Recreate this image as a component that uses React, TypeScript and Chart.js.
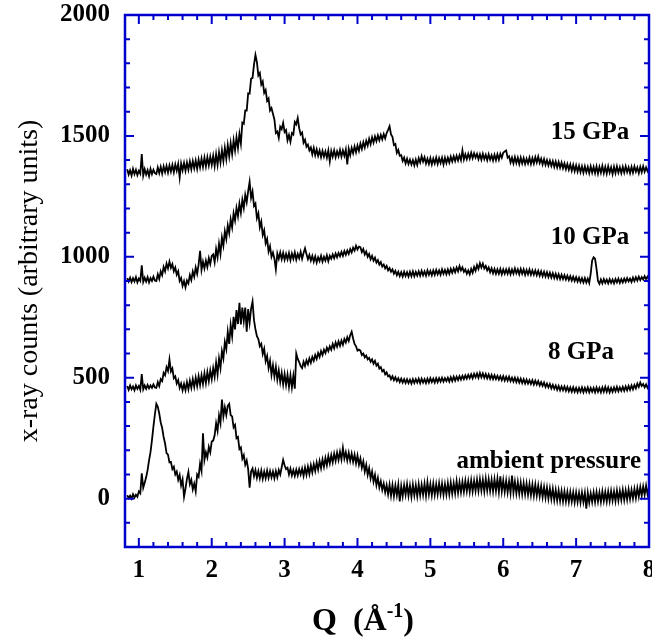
import React, { useEffect, useRef } from "react";
import { Chart, registerables } from "chart.js";

Chart.register(...registerables);

// Sampling grid of the diffraction patterns (Q in 1/Å)
const Q_START = 0.84;
const Q_STEP = 0.02;

const GPA15 = [
  1362, 1340, 1358, 1336, 1364, 1342, 1360, 1338, 1356, 1344, 1425, 1336, 1362, 1340, 1358, 1334, 1364, 1342, 1360, 1346,
  1342, 1370, 1346, 1372, 1344, 1374, 1350, 1376, 1348, 1378, 1352, 1380, 1350, 1382, 1356, 1384, 1328, 1386, 1358, 1388,
  1356, 1390, 1360, 1394, 1362, 1396, 1366, 1398, 1364, 1402, 1370, 1406, 1372, 1410, 1374, 1412, 1378, 1414, 1380, 1418,
  1375, 1424, 1380, 1432, 1390, 1440, 1396, 1450, 1405, 1462, 1416, 1470, 1425, 1482, 1440, 1494, 1450, 1508, 1468, 1555,
  1550, 1605, 1605, 1676, 1675, 1736, 1740, 1795, 1835, 1805, 1750, 1760, 1712, 1725, 1678, 1690, 1645, 1655, 1605, 1615,
  1592, 1568, 1512, 1518, 1492, 1538, 1528, 1554, 1516, 1524, 1482, 1504, 1476, 1512, 1506, 1558, 1548, 1574, 1532, 1506,
  1514, 1472, 1484, 1455, 1464, 1440, 1452, 1424, 1450, 1420, 1444, 1418, 1440, 1412, 1438, 1414, 1436, 1410, 1440, 1395,
  1438, 1414, 1440, 1412, 1436, 1416, 1442, 1414, 1440, 1418, 1444, 1382, 1446, 1420, 1450, 1428, 1456, 1432, 1460, 1438,
  1468, 1446, 1474, 1452, 1480, 1460, 1488, 1466, 1494, 1472, 1498, 1478, 1502, 1482, 1504, 1486, 1508, 1490, 1512, 1525,
  1540, 1506, 1496, 1462, 1466, 1430, 1442, 1418, 1420, 1396, 1410, 1386, 1406, 1384, 1402, 1382, 1400, 1378, 1402, 1380,
  1408, 1390, 1416, 1394, 1412, 1386, 1406, 1384, 1408, 1382, 1406, 1386, 1410, 1384, 1408, 1388, 1410, 1382, 1410, 1388,
  1410, 1390, 1414, 1394, 1416, 1396, 1418, 1398, 1420, 1400, 1440, 1402, 1424, 1404, 1426, 1406, 1430, 1408, 1428, 1410,
  1426, 1404, 1424, 1402, 1426, 1404, 1422, 1400, 1424, 1402, 1420, 1398, 1422, 1400, 1424, 1402, 1426, 1410, 1430, 1436,
  1440, 1410, 1416, 1390, 1410, 1386, 1412, 1388, 1410, 1384, 1410, 1386, 1408, 1384, 1406, 1386, 1410, 1384, 1408, 1386,
  1412, 1390, 1414, 1388, 1406, 1382, 1404, 1380, 1400, 1378, 1398, 1376, 1396, 1372, 1394, 1370, 1392, 1368, 1390, 1366,
  1386, 1362, 1384, 1360, 1382, 1356, 1380, 1354, 1378, 1352, 1376, 1350, 1374, 1348, 1374, 1350, 1372, 1346, 1374, 1348,
  1372, 1346, 1374, 1344, 1372, 1348, 1376, 1346, 1372, 1344, 1374, 1348, 1370, 1342, 1372, 1346, 1374, 1348, 1370, 1346,
  1372, 1348, 1374, 1350, 1370, 1346, 1372, 1348, 1374, 1352, 1370, 1346, 1372, 1350, 1374, 1352, 1370, 1354, 1368,
];

const GPA10 = [
  912, 898, 914, 896, 912, 898, 916, 894, 910, 900, 965, 896, 914, 898, 916, 894, 912, 900, 918, 902,
  900, 928, 908, 940, 924, 958, 940, 972, 952, 980, 955, 970, 940, 956, 926, 940, 900, 912, 880, 900,
  874, 902, 890, 924, 904, 940, 918, 956, 930, 968, 1025, 946, 980, 952, 984, 958, 994, 970, 1004, 1010,
  978, 1032, 998, 1054, 1012, 1080, 1046, 1106, 1074, 1130, 1098, 1155, 1122, 1180, 1150, 1202, 1168, 1220, 1182, 1236,
  1202, 1256, 1226, 1272, 1310, 1244, 1270, 1210, 1220, 1160, 1180, 1122, 1146, 1090, 1110, 1056, 1074, 1022, 1044, 1000,
  1018, 992, 948, 1014, 992, 1018, 990, 1016, 988, 1012, 990, 1016, 986, 1014, 992, 1018, 988, 1012, 994, 1020,
  992, 1016, 1035, 1012, 990, 1008, 984, 1004, 980, 1002, 976, 998, 982, 1004, 980, 1000, 984, 1006, 982, 1004,
  992, 1010, 994, 1014, 998, 1016, 1002, 1020, 1004, 1024, 1008, 1026, 1012, 1032, 1018, 1038, 1026, 1046, 1030, 1042,
  1040, 1020, 1032, 1010, 1022, 1000, 1012, 990, 1004, 984, 996, 976, 986, 968, 978, 960, 968, 952, 962, 944,
  954, 938, 948, 930, 942, 924, 938, 920, 936, 918, 938, 920, 936, 918, 938, 920, 940, 920, 938, 922,
  940, 922, 942, 924, 940, 922, 944, 926, 942, 924, 944, 926, 946, 928, 944, 926, 948, 930, 946, 928,
  948, 930, 950, 934, 952, 936, 956, 940, 962, 944, 956, 938, 948, 930, 944, 928, 950, 934, 958, 942,
  966, 950, 974, 956, 972, 952, 962, 944, 956, 936, 952, 932, 950, 930, 948, 930, 950, 928, 948, 930,
  948, 930, 950, 928, 948, 930, 952, 932, 948, 928, 950, 930, 948, 926, 946, 928, 948, 926, 944, 926,
  944, 924, 942, 922, 940, 920, 938, 918, 936, 916, 934, 914, 932, 912, 930, 910, 928, 908, 926, 908,
  924, 906, 922, 904, 920, 902, 918, 900, 916, 898, 914, 896, 912, 894, 912, 894, 910, 892, 930, 985,
  998, 992, 950, 900, 888, 906, 890, 908, 892, 906, 890, 908, 892, 906, 890, 908, 894, 910, 892, 908,
  894, 910, 896, 912, 898, 910, 896, 914, 900, 916, 902, 918, 904, 916, 906, 920, 908, 918, 906,
];

const GPA8 = [
  466, 450, 468, 452, 464, 448, 468, 454, 466, 450, 515, 452, 468, 454, 470, 456, 468, 458, 472, 460,
  458, 482, 466, 494, 486, 520, 510, 544, 528, 575, 526, 538, 498, 506, 476, 490, 458, 476, 448, 474,
  448, 482, 452, 488, 458, 494, 462, 500, 466, 506, 470, 510, 474, 518, 478, 524, 486, 530, 494, 540,
  504, 562, 514, 580, 540, 610, 580, 648, 618, 690, 640, 718, 672, 752, 700, 780, 722, 810, 720, 790,
  735, 790, 690, 784, 728, 785, 815, 738, 700, 672, 660, 630, 640, 598, 620, 568, 590, 540, 570, 512,
  552, 505, 545, 492, 530, 482, 520, 472, 515, 470, 512, 462, 510, 460, 508, 455, 600, 578, 565, 548,
  540, 566, 548, 572, 556, 580, 562, 586, 570, 594, 578, 602, 586, 610, 594, 616, 602, 624, 610, 630,
  616, 640, 622, 646, 628, 650, 632, 654, 636, 660, 646, 668, 652, 676, 690, 662, 640, 630, 612, 616,
  612, 594, 600, 584, 592, 576, 582, 566, 576, 558, 570, 550, 558, 538, 544, 526, 532, 514, 522, 506,
  510, 494, 506, 490, 502, 486, 498, 482, 496, 480, 494, 478, 494, 478, 492, 476, 494, 478, 494, 480,
  496, 478, 496, 480, 494, 478, 496, 480, 498, 482, 496, 480, 498, 482, 498, 484, 500, 484, 498, 486,
  500, 484, 502, 486, 504, 488, 504, 490, 506, 492, 508, 494, 510, 496, 512, 498, 514, 498, 516, 502,
  518, 500, 520, 502, 518, 500, 516, 498, 514, 496, 512, 494, 510, 494, 508, 492, 506, 490, 506, 488,
  504, 488, 504, 486, 500, 484, 500, 482, 498, 480, 496, 478, 494, 476, 492, 476, 490, 474, 490, 472,
  488, 472, 486, 468, 482, 466, 480, 462, 476, 460, 474, 456, 470, 454, 468, 450, 466, 448, 464, 448,
  464, 446, 462, 444, 460, 442, 460, 442, 458, 440, 458, 442, 460, 440, 458, 442, 460, 440, 458, 442,
  458, 440, 460, 442, 458, 440, 460, 442, 462, 442, 460, 440, 458, 442, 460, 444, 462, 444, 460, 446,
  462, 446, 464, 448, 466, 450, 468, 452, 470, 456, 476, 462, 480, 466, 474, 460, 472, 458, 470,
];

const AMBIENT = [
  14, 2, 12, 0, 18, 4, 16, 8, 30, 22, 105, 45, 66, 88, 118, 158, 192, 242, 298, 348,
  392, 380, 352, 315, 292, 255, 228, 188, 182, 150, 152, 122, 132, 100, 112, 78, 98, 55, 80, 8,
  42, 82, 110, 60, 78, 38, 62, 30, 100, 90, 145, 115, 270, 160, 192, 170, 214, 192, 236, 240,
  262, 312, 280, 344, 312, 410, 340, 378, 346, 384, 392, 345, 340, 295, 305, 250, 255, 205, 212, 165,
  180, 140, 158, 122, 45, 112, 125, 92, 118, 86, 114, 84, 116, 82, 112, 84, 116, 86, 114, 88,
  112, 84, 114, 88, 118, 100, 130, 160, 138, 122, 128, 100, 124, 96, 118, 94, 120, 96, 122, 100,
  124, 94, 128, 98, 132, 102, 138, 108, 142, 114, 150, 120, 156, 126, 162, 132, 168, 138, 176, 146,
  180, 150, 186, 156, 190, 160, 194, 162, 210, 166, 192, 158, 190, 156, 186, 152, 182, 146, 178, 140,
  166, 128, 154, 112, 140, 98, 126, 84, 112, 70, 98, 56, 86, 46, 72, 36, 62, 26, 56, 18,
  58, 12, 56, 10, 54, 14, 58, -12, 52, 10, 56, 16, 60, 12, 54, 8, 58, 14, 55, 10,
  60, 14, 58, 16, 62, 12, 68, 18, 60, 14, 62, 16, 60, 18, 64, 20, 62, 16, 60, 18,
  64, 18, 66, 20, 64, 22, 72, 24, 68, 26, 70, 28, 74, 30, 72, 28, 76, 30, 74, 32,
  78, 32, 80, 34, 78, 30, 82, 34, 80, 32, 78, 30, 80, 32, 82, 28, 92, 30, 76, 28,
  74, 26, 72, 24, 95, 26, 70, 22, 68, 20, 66, 18, 64, 18, 62, 16, 60, 14, 58, 12,
  58, 12, 54, 10, 52, 6, 48, 4, 46, 0, 42, -2, 40, -6, 36, -8, 34, -10, 32, -12,
  30, -12, 28, -14, 28, -12, 26, -16, 26, -14, 24, -16, 26, -14, 24, -42, 24, -16, 22, -14,
  26, -14, 28, -12, 26, -14, 30, -10, 28, -12, 30, -10, 32, -8, 30, -10, 34, -8, 32, -6,
  36, -6, 34, -4, 38, -2, 36, 0, 40, 2, 44, 8, 48, 12, 50, 16, 54, 18, 46,
];

const X_TICKS = [1, 2, 3, 4, 5, 6, 7, 8];
const Y_TICKS = [0, 500, 1000, 1500, 2000];
const X_MINOR_STEP = 0.2;
const Y_MINOR_STEP = 100;

const CURVE_LABELS = ["15 GPa", "10 GPa", "8 GPa", "ambient pressure"];

const BLUE = "#0000cc";
const SERIF = '"Liberation Serif", "Times New Roman", serif';

const toPoints = (arr: number[]) =>
  arr.map((v, i) => ({ x: +(Q_START + i * Q_STEP).toFixed(2), y: v }));

const framePlugin = {
  id: "frame",
  afterDraw(chart: any) {
    const { ctx, chartArea: a, scales } = chart;
    const xs = scales.x;
    const ys = scales.y;
    ctx.save();
    ctx.strokeStyle = BLUE;
    ctx.lineWidth = 2.5;
    ctx.strokeRect(a.left, a.top, a.right - a.left, a.bottom - a.top);
    ctx.lineWidth = 2;
    ctx.beginPath();
    for (let k = 0; ; k++) {
      const vv = Math.round((1 + k * X_MINOR_STEP) * 100) / 100;
      if (vv > xs.max + 1e-9) break;
      const px = xs.getPixelForValue(vv);
      const major = X_TICKS.includes(vv);
      const len = major ? 9 : 5;
      ctx.moveTo(px, a.bottom);
      ctx.lineTo(px, a.bottom - len);
      ctx.moveTo(px, a.top);
      ctx.lineTo(px, a.top + len);
    }
    for (let v = -100; v <= ys.max; v += Y_MINOR_STEP) {
      const py = ys.getPixelForValue(v);
      const major = Y_TICKS.includes(v);
      const len = major ? 9 : 5;
      ctx.moveTo(a.left, py);
      ctx.lineTo(a.left + len, py);
      ctx.moveTo(a.right, py);
      ctx.lineTo(a.right - len, py);
    }
    ctx.stroke();

    const labelPos = [
      { q: 7.73, v: 1513 },
      { q: 7.73, v: 1080 },
      { q: 7.52, v: 606 },
      { q: 7.89, v: 152 },
    ];
    ctx.fillStyle = "#000";
    ctx.font = `bold 25px ${SERIF}`;
    ctx.textAlign = "right";
    ctx.textBaseline = "middle";
    CURVE_LABELS.forEach((t, i) => {
      ctx.fillText(t, xs.getPixelForValue(labelPos[i].q), ys.getPixelForValue(labelPos[i].v));
    });

    ctx.save();
    ctx.translate(30, (a.top + a.bottom) / 2);
    ctx.rotate(-Math.PI / 2);
    ctx.font = `28px ${SERIF}`;
    ctx.textAlign = "center";
    ctx.textBaseline = "middle";
    ctx.fillText("x-ray counts (arbitrary units)", 0, 0);
    ctx.restore();

    const main = "Q  (Å";
    const sup = "-1";
    const close = ")";
    ctx.textAlign = "left";
    ctx.textBaseline = "alphabetic";
    ctx.font = `bold 32px ${SERIF}`;
    const wMain = ctx.measureText(main).width;
    const wClose = ctx.measureText(close).width;
    ctx.font = `bold 20px ${SERIF}`;
    const wSup = ctx.measureText(sup).width;
    const total = wMain + wSup + wClose;
    let x0 = 363 - total / 2;
    const base = 630;
    ctx.font = `bold 32px ${SERIF}`;
    ctx.fillText(main, x0, base);
    x0 += wMain;
    ctx.font = `bold 20px ${SERIF}`;
    ctx.fillText(sup, x0, base - 13);
    x0 += wSup;
    ctx.font = `bold 32px ${SERIF}`;
    ctx.fillText(close, x0, base);
    ctx.restore();
  },
};

export default function App() {
  const ref = useRef<HTMLCanvasElement | null>(null);
  useEffect(() => {
    if (!ref.current) return;
    const mk = (arr: number[]) => ({
      data: toPoints(arr),
      borderColor: "#000",
      borderWidth: 1.8,
      pointRadius: 0,
      tension: 0,
      fill: false,
    });
    const chart = new Chart(ref.current, {
      type: "line",
      data: {
        datasets: [mk(GPA15), mk(GPA10), mk(GPA8), mk(AMBIENT)],
      },
      options: {
        animation: false,
        responsive: true,
        maintainAspectRatio: false,
        layout: { padding: { left: 0, right: 3, top: 15, bottom: 0 } },
        plugins: {
          legend: { display: false },
          tooltip: { enabled: false },
          title: { display: false },
        },
        scales: {
          x: {
            type: "linear",
            min: 0.81,
            max: 8.0,
            grid: { display: false, drawTicks: false },
            border: { display: false },
            afterBuildTicks: (s: any) => {
              s.ticks = X_TICKS.map((v) => ({ value: v }));
            },
            afterFit: (s: any) => {
              s.height = 95;
              s.paddingLeft = 0;
              s.paddingRight = 0;
              s.paddingTop = 0;
              s.paddingBottom = 0;
            },
            ticks: {
              padding: 9,
              color: "#000",
              font: { family: SERIF, size: 25, weight: "bold" },
              maxRotation: 0,
              callback: (v: any) => String(v),
            },
          },
          y: {
            type: "linear",
            min: -200,
            max: 2000,
            grid: { display: false, drawTicks: false },
            border: { display: false },
            afterBuildTicks: (s: any) => {
              s.ticks = Y_TICKS.map((v) => ({ value: v }));
            },
            afterFit: (s: any) => {
              s.width = 125;
              s.paddingLeft = 0;
              s.paddingRight = 0;
              s.paddingTop = 0;
              s.paddingBottom = 0;
            },
            ticks: {
              padding: 15,
              color: "#000",
              font: { family: SERIF, size: 25, weight: "bold" },
              callback: (v: any) => String(v),
            },
          },
        },
      },
      plugins: [framePlugin],
    });
    return () => chart.destroy();
  }, []);
  return (
    <div style={{ position: "fixed", left: 0, top: 0, width: 652, height: 642, background: "#fff" }}>
      <canvas ref={ref} />
    </div>
  );
}
